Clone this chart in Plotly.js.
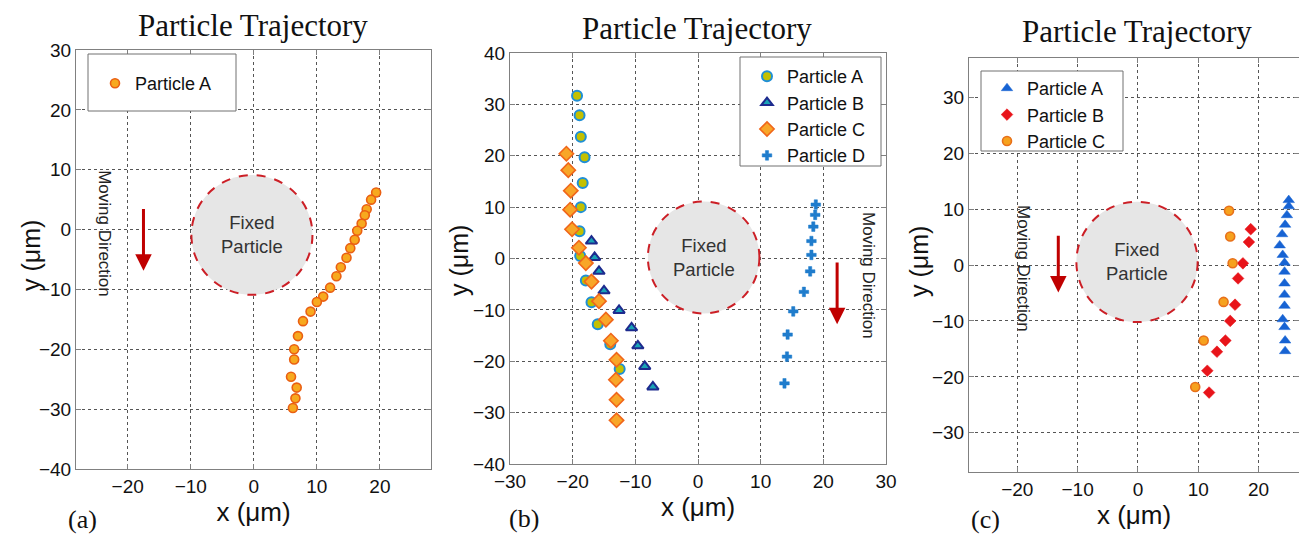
<!DOCTYPE html>
<html>
<head>
<meta charset="utf-8">
<script src="https://cdn.plot.ly/plotly-3.0.1.min.js"></script>
<style>html,body{margin:0;padding:0;background:#fff;}#chart{width:1299px;height:536px;}</style>
</head>
<body>
<div id="chart"></div>
<script>
// ---------- Panel (a) ----------
const aA_x = [19.4, 18.6, 17.9, 17.6, 17.1, 16.4, 16.0, 15.3, 14.7, 13.8, 13.1, 12.1, 11.0, 10.0, 9.0, 7.8, 7.0, 6.4, 6.4, 5.9, 6.8, 6.6, 6.2];
const aA_y = [6.2, 5.0, 3.4, 2.4, 1.0, -0.2, -1.7, -3.1, -4.7, -6.3, -7.8, -9.7, -11.2, -12.1, -13.7, -15.3, -17.8, -20.0, -21.7, -24.6, -26.4, -28.2, -29.8];

// ---------- Panel (b) ----------
const bA_x = [-19.3, -18.9, -18.7, -18.1, -18.4, -18.7, -18.9, -18.8, -17.9, -17.0, -16.0, -14.0, -12.5];
const bA_y = [31.7, 27.9, 23.7, 19.7, 14.7, 10.0, 5.3, 0.5, -4.3, -8.5, -12.8, -16.7, -21.5];
const bB_x = [-17.0, -16.5, -15.8, -15.0, -12.6, -10.6, -9.6, -8.5, -7.2];
const bB_y = [3.4, 0.2, -2.5, -6.3, -10.1, -13.5, -17.0, -21.0, -25.0];
const bC_x = [-21.0, -20.7, -20.3, -20.4, -20.1, -19.0, -17.9, -17.0, -15.8, -14.7, -13.9, -13.0, -13.1, -13.0, -13.0];
const bC_y = [20.4, 17.2, 13.2, 9.5, 5.7, 2.1, -0.9, -4.5, -8.3, -11.9, -16.0, -19.7, -23.6, -27.5, -31.5];
const bD_x = [18.8, 18.7, 18.4, 18.1, 18.1, 17.9, 16.9, 15.2, 14.3, 14.2, 13.8];
const bD_y = [10.5, 8.5, 6.2, 3.4, 0.7, -2.5, -6.5, -10.3, -14.8, -19.1, -24.3];

// ---------- Panel (c) ----------
const cA_x = [25.0, 25.0, 24.7, 24.4, 23.9, 23.5, 24.0, 24.3, 24.3, 24.3, 24.3, 24.3, 24.0, 24.3, 24.4, 24.4];
const cA_y = [11.6, 10.5, 8.9, 7.2, 5.5, 3.5, 1.8, 0.4, -1.2, -3.3, -5.3, -7.3, -9.7, -11.1, -13.5, -15.4];
const cB_x = [18.7, 18.4, 17.4, 16.6, 16.1, 15.3, 14.5, 13.1, 11.5, 11.8];
const cB_y = [6.4, 4.1, 0.3, -2.4, -7.1, -10.0, -13.5, -15.5, -18.9, -22.8];
const cC_x = [15.1, 15.3, 15.7, 14.2, 10.9, 9.5];
const cC_y = [9.7, 5.1, 0.3, -6.6, -13.5, -21.8];

const seriesNames = ['Particle A', 'Particle B', 'Particle C', 'Particle D'];
const tickVals = [-40, -30, -20, -10, 0, 10, 20, 30, 40];
const panelTitle = 'Particle Trajectory';
const panelLabels = ['(a)', '(b)', '(c)'];
const yLabel = 'y (\u03bcm)';
const xLabel = 'x (\u03bcm)';

const W = 1299, H = 536;
const px = v => v / W;
const py = v => 1 - v / H;

const SANS = 'Liberation Sans, Arial, sans-serif';
const SERIF = 'Liberation Serif, Times New Roman, serif';

function mk(x, y, name, xa, ya, leg, grp, marker) {
  return {x: x, y: y, name: name, type: 'scatter', mode: 'markers',
    xaxis: xa, yaxis: ya, legend: leg, legendgroup: grp, marker: marker, cliponaxis: false};
}

const traces = [
  mk(aA_x, aA_y, seriesNames[0], 'x', 'y', 'legend', 'a1',
     {symbol: 'circle', size: 9, color: '#f7a91e', line: {color: '#ea5f12', width: 1.6}}),
  mk(bA_x, bA_y, seriesNames[0], 'x2', 'y2', 'legend2', 'b1',
     {symbol: 'circle', size: 10, color: '#c4c000', line: {color: '#1f8fd6', width: 2}}),
  mk(bB_x, bB_y, seriesNames[1], 'x2', 'y2', 'legend2', 'b2',
     {symbol: 'triangle-up', size: 10, color: '#19a3b6', line: {color: '#1d2a8e', width: 2}}),
  mk(bC_x, bC_y, seriesNames[2], 'x2', 'y2', 'legend2', 'b3',
     {symbol: 'diamond', size: 11, color: '#f8a628', line: {color: '#f0661a', width: 1.6}}),
  mk(bD_x, bD_y, seriesNames[3], 'x2', 'y2', 'legend2', 'b4',
     {symbol: 'cross', size: 8, color: '#1f7ccc', line: {color: '#1f7ccc', width: 0.5}}),
  mk(cA_x, cA_y, seriesNames[0], 'x3', 'y3', 'legend3', 'c1',
     {symbol: 'triangle-up', size: 10, color: '#1763d3', line: {color: '#1763d3', width: 0.5}}),
  mk(cB_x, cB_y, seriesNames[1], 'x3', 'y3', 'legend3', 'c2',
     {symbol: 'diamond', size: 9, color: '#e8141a', line: {color: '#e8141a', width: 0.5}}),
  mk(cC_x, cC_y, seriesNames[2], 'x3', 'y3', 'legend3', 'c3',
     {symbol: 'circle', size: 9, color: '#f6a21e', line: {color: '#e8701a', width: 1.6}})
];

function axis(domain, range, anchor, extra) {
  return Object.assign({
    domain: domain, range: range, anchor: anchor, autorange: false,
    tickvals: tickVals, ticks: 'inside', ticklen: 5, tickcolor: '#808080',
    showline: true, linecolor: '#808080', linewidth: 1, mirror: 'ticks',
    showgrid: true, gridcolor: '#555555', gridwidth: 1, griddash: 'dot',
    zeroline: false, fixedrange: true,
    tickfont: {family: SANS, size: 19, color: '#111'}
  }, extra || {});
}
const xTitle = (s) => ({text: xLabel, font: {family: SANS, size: 26, color: '#111'}, standoff: s});

const legendBase = {
  bgcolor: 'rgba(0,0,0,0)', borderwidth: 0, xanchor: 'left', yanchor: 'top',
  font: {family: SANS, size: 18, color: '#111'}, tracegroupgap: 0, itemwidth: 30
};

const annFont = {family: SANS, size: 18.5, color: '#333'};
const mdFont = {family: SANS, size: 17, color: '#222'};
const titleFont = {family: SERIF, size: 31, color: '#111'};
const labelFont = {family: SERIF, size: 26, color: '#111'};
const yTitleFont = {family: SANS, size: 25, color: '#111'};

const annotations = [
  // titles
  {xref: 'paper', yref: 'paper', x: px(253), y: py(26), text: panelTitle, showarrow: false, font: titleFont, xanchor: 'center', yanchor: 'middle'},
  {xref: 'paper', yref: 'paper', x: px(697), y: py(28), text: panelTitle, showarrow: false, font: titleFont, xanchor: 'center', yanchor: 'middle'},
  {xref: 'paper', yref: 'paper', x: px(1137), y: py(32), text: panelTitle, showarrow: false, font: titleFont, xanchor: 'center', yanchor: 'middle'},
  // y axis titles
  {xref: 'paper', yref: 'paper', x: px(31), y: py(256), text: yLabel, textangle: -90, showarrow: false, font: yTitleFont, xanchor: 'center', yanchor: 'middle'},
  {xref: 'paper', yref: 'paper', x: px(459), y: py(261), text: yLabel, textangle: -90, showarrow: false, font: yTitleFont, xanchor: 'center', yanchor: 'middle'},
  {xref: 'paper', yref: 'paper', x: px(919), y: py(262), text: yLabel, textangle: -90, showarrow: false, font: yTitleFont, xanchor: 'center', yanchor: 'middle'},
  // panel labels
  {xref: 'paper', yref: 'paper', x: px(82), y: py(519), text: panelLabels[0], showarrow: false, font: labelFont, xanchor: 'center', yanchor: 'middle'},
  {xref: 'paper', yref: 'paper', x: px(524), y: py(518), text: panelLabels[1], showarrow: false, font: labelFont, xanchor: 'center', yanchor: 'middle'},
  {xref: 'paper', yref: 'paper', x: px(985), y: py(519), text: panelLabels[2], showarrow: false, font: labelFont, xanchor: 'center', yanchor: 'middle'},
  // fixed particle labels
  {xref: 'x', yref: 'y', x: -0.3, y: -0.9, text: 'Fixed<br>Particle', showarrow: false, font: annFont},
  {xref: 'x2', yref: 'y2', x: 0.9, y: 0.2, text: 'Fixed<br>Particle', showarrow: false, font: annFont},
  {xref: 'x3', yref: 'y3', x: -0.15, y: 0.55, text: 'Fixed<br>Particle', showarrow: false, font: annFont},
  // moving direction text
  {xref: 'x', yref: 'y', x: -23.6, y: -0.6, text: 'Moving Direction', textangle: 90, showarrow: false, font: mdFont},
  {xref: 'x2', yref: 'y2', x: 27.2, y: -3.3, text: 'Moving Direction', textangle: 90, showarrow: false, font: mdFont},
  {xref: 'x3', yref: 'y3', x: -19.0, y: -0.6, text: 'Moving Direction', textangle: 90, showarrow: false, font: mdFont},
  // arrows
  {xref: 'x', yref: 'y', axref: 'x', ayref: 'y', x: -17.5, y: -6.9, ax: -17.5, ay: 3.7, text: '', showarrow: true, arrowhead: 2, arrowsize: 1.1, arrowwidth: 3, arrowcolor: '#c00000', standoff: 0, startstandoff: 0},
  {xref: 'x2', yref: 'y2', axref: 'x2', ayref: 'y2', x: 22.2, y: -12.8, ax: 22.2, ay: -0.5, text: '', showarrow: true, arrowhead: 2, arrowsize: 1.1, arrowwidth: 3, arrowcolor: '#c00000', standoff: 0, startstandoff: 0},
  {xref: 'x3', yref: 'y3', axref: 'x3', ayref: 'y3', x: -13.2, y: -4.9, ax: -13.2, ay: 5.5, text: '', showarrow: true, arrowhead: 2, arrowsize: 1.1, arrowwidth: 3, arrowcolor: '#c00000', standoff: 0, startstandoff: 0}
];

const circLine = {color: '#cc1f26', width: 2, dash: 'dash'};
const shapes = [
  {type: 'circle', xref: 'x', yref: 'y', x0: -9.9, x1: 9.3, y0: -10.9, y1: 9.1, fillcolor: '#e6e6e6', line: circLine, layer: 'above'},
  {type: 'circle', xref: 'x2', yref: 'y2', x0: -8.0, x1: 9.8, y0: -10.7, y1: 11.1, fillcolor: '#e6e6e6', line: circLine, layer: 'above'},
  {type: 'circle', xref: 'x3', yref: 'y3', x0: -10.2, x1: 9.9, y0: -10.2, y1: 11.3, fillcolor: '#e6e6e6', line: circLine, layer: 'above'},
  // legend boxes
  {type: 'rect', xref: 'paper', yref: 'paper', x0: px(88), x1: px(236), y0: py(111), y1: py(54), fillcolor: '#fff', line: {color: '#707070', width: 1}, layer: 'above'},
  {type: 'rect', xref: 'paper', yref: 'paper', x0: px(740), x1: px(881), y0: py(166), y1: py(57), fillcolor: '#fff', line: {color: '#707070', width: 1}, layer: 'above'},
  {type: 'rect', xref: 'paper', yref: 'paper', x0: px(981), x1: px(1123), y0: py(151), y1: py(71), fillcolor: '#fff', line: {color: '#707070', width: 1}, layer: 'above'}
];

const layout = {
  width: W, height: H,
  margin: {l: 0, r: 0, t: 0, b: 0, pad: 0},
  paper_bgcolor: '#fff', plot_bgcolor: '#fff',
  showlegend: true,
  xaxis: axis([px(76), px(431)], [-28.2, 28.1], 'y', {title: xTitle(6)}),
  yaxis: axis([py(469), py(50)], [-40, 30], 'x'),
  xaxis2: axis([px(510), px(886)], [-30, 30], 'y2', {title: xTitle(2)}),
  yaxis2: axis([py(464), py(53)], [-40, 40], 'x2'),
  xaxis3: axis([px(969), 1], [-28.0, 26.7], 'y3', {title: xTitle(6)}),
  yaxis3: axis([py(472), py(58)], [-37, 37], 'x3'),
  legend: Object.assign({}, legendBase, {x: px(95), y: py(65)}),
  legend2: Object.assign({}, legendBase, {x: px(747), y: py(58)}),
  legend3: Object.assign({}, legendBase, {x: px(987), y: py(70)}),
  annotations: annotations,
  shapes: shapes
};

Plotly.newPlot('chart', traces, layout, {displayModeBar: false, staticPlot: true});
</script>
</body>
</html>
